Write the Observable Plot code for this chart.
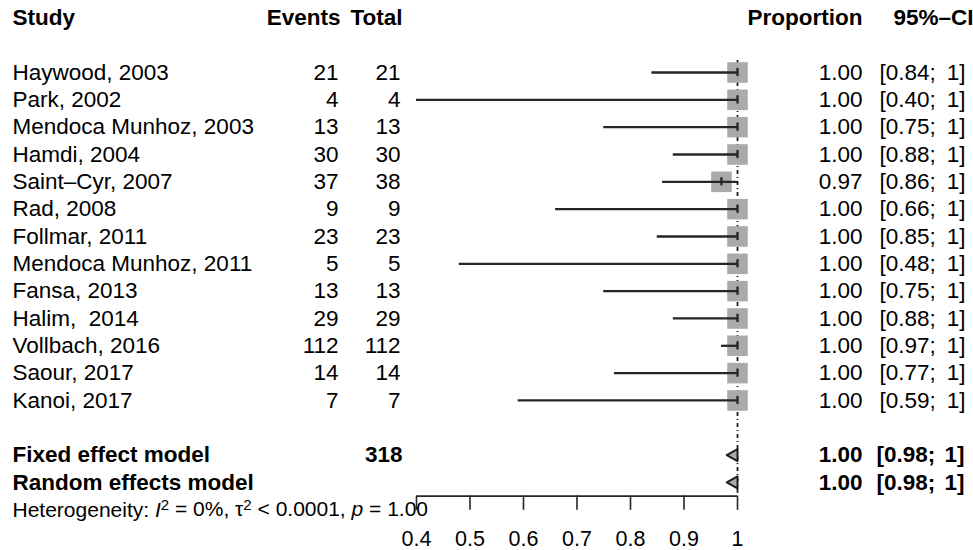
<!DOCTYPE html>
<html>
<head>
<meta charset="utf-8">
<script src="https://cdn.jsdelivr.net/npm/d3@7"></script>
<script src="https://cdn.jsdelivr.net/npm/@observablehq/plot@0.6"></script>
<style>
  html, body { margin: 0; padding: 0; background: #fff; }
  svg text { white-space: pre; }
</style>
</head>
<body>
<div id="chart"></div>
<script>
// ---- data ----
const studies = ["Haywood, 2003", "Park, 2002", "Mendoca Munhoz, 2003", "Hamdi, 2004", "Saint\u2013Cyr, 2007", "Rad, 2008", "Follmar, 2011", "Mendoca Munhoz, 2011", "Fansa, 2013", "Halim,  2014", "Vollbach, 2016", "Saour, 2017", "Kanoi, 2017"];
const events = [21, 4, 13, 30, 37, 9, 23, 5, 13, 29, 112, 14, 7];
const totals = [21, 4, 13, 30, 38, 9, 23, 5, 13, 29, 112, 14, 7];
const proportions = [1, 1, 1, 1, 0.97, 1, 1, 1, 1, 1, 1, 1, 1];
const lowers = [0.84, 0.40, 0.75, 0.88, 0.86, 0.66, 0.85, 0.48, 0.75, 0.88, 0.97, 0.77, 0.59];
const uppers = [1, 1, 1, 1, 1, 1, 1, 1, 1, 1, 1, 1, 1];

const models = ["Fixed effect model", "Random effects model"];
const modelEst = [1, 1];
const modelLower = [0.98, 0.98];
const modelUpper = [1, 1];
const modelTotals = [318, null];

const headers = ["Study", "Events", "Total", "Proportion", "95%\u2013CI"];
const heterogeneity = "Heterogeneity: I2 = 0%, \u03c42 < 0.0001, p = 1.00";
const xTicks = [0.4, 0.5, 0.6, 0.7, 0.8, 0.9, 1];

// ---- layout ----
const font = "Liberation Sans, Arial, Helvetica, sans-serif";
const fs = 22.5;
const col = {study: 12, events: 338, total: 400, prop: 862, ciL: 879, ciR: 965, ciHead: 893};
const fmtP = d => d.toFixed(2);
const fmtU = d => (d === 1 ? "1" : d.toFixed(2)) + "]";
const fmtL = d => "[" + d.toFixed(2) + ";";
const tickFmt = d => (d === 1 ? "1" : d.toFixed(1));

const rows = studies.map((s, i) => ({
  study: s, events: events[i], total: totals[i],
  prop: proportions[i], lo: lowers[i], hi: uppers[i], row: i + 2
}));
const sumRows = models.map((m, i) => ({
  model: m, est: modelEst[i], lo: modelLower[i], hi: modelUpper[i],
  total: modelTotals[i], row: 16 + i
}));
const h = 0.22;
const diamonds = sumRows.flatMap(d => [
  {model: d.model, x: d.lo, y: d.row},
  {model: d.model, x: d.est, y: d.row - h},
  {model: d.model, x: d.hi, y: d.row},
  {model: d.model, x: d.est, y: d.row + h},
  {model: d.model, x: d.lo, y: d.row}
]);
const headRow = [{row: 0}];
const dy = 0;

const left = (data, opts) => Plot.text(data, {frameAnchor: "left", textAnchor: "start", fontSize: fs, fill: "#000", dy, ...opts});
const right = (data, opts) => Plot.text(data, {frameAnchor: "left", textAnchor: "end", fontSize: fs, fill: "#000", dy, ...opts});

const chart = Plot.plot({
  width: 973,
  height: 550,
  margin: 0,
  x: {domain: [0.4, 1], range: [416, 737], axis: null},
  y: {domain: [0, 19], range: [17.34, 536.6], axis: null},
  style: {fontFamily: font, background: "#fff", overflow: "hidden"},
  marks: [
    // reference line at pooled estimate
    Plot.ruleX([modelEst[0]], {x: d => d, y1: 1.56, y2: 17.4, stroke: "#111", strokeWidth: 1.7, strokeDasharray: "4,3,1,3"}),
    // squares
    Plot.dot(rows, {x: "prop", y: "row", symbol: "square", r: 11.6, fill: "#aaaaaa", stroke: "none"}),
    // CI lines
    Plot.ruleY(rows, {y: "row", x1: "lo", x2: "hi", stroke: "#262626", strokeWidth: 2.3}),
    // estimate ticks
    Plot.ruleX(rows, {x: "prop", y1: d => d.row - 0.15, y2: d => d.row + 0.15, stroke: "#262626", strokeWidth: 2.3}),
    // diamonds
    Plot.line(diamonds, {x: "x", y: "y", z: "model", fill: "#aaaaaa", stroke: "#1e1e1e", strokeWidth: 2, curve: "linear"}),
    // axis
    Plot.ruleY([17.5], {y: d => d, x1: xTicks[0], x2: xTicks[xTicks.length - 1], stroke: "#262626", strokeWidth: 1.6}),
    Plot.ruleX(xTicks, {x: d => d, y1: 17.5, y2: 18.02, stroke: "#262626", strokeWidth: 1.6}),
    Plot.text(xTicks, {x: d => d, y: () => 19.08, text: tickFmt, fontSize: 21.5, fill: "#000", textAnchor: "middle"}),
    // headers
    left(headRow, {y: "row", text: () => headers[0], dx: col.study, fontWeight: "bold"}),
    right(headRow, {y: "row", text: () => headers[1], dx: col.events + 2, fontWeight: "bold"}),
    right(headRow, {y: "row", text: () => headers[2], dx: col.total + 2, fontWeight: "bold"}),
    right(headRow, {y: "row", text: () => headers[3], dx: col.prop, fontWeight: "bold"}),
    left(headRow, {y: "row", text: () => headers[4], dx: col.ciHead, fontWeight: "bold"}),
    // study columns
    left(rows, {y: "row", text: "study", dx: col.study}),
    right(rows, {y: "row", text: d => String(d.events), dx: col.events}),
    right(rows, {y: "row", text: d => String(d.total), dx: col.total}),
    right(rows, {y: "row", text: d => fmtP(d.prop), dx: col.prop}),
    left(rows, {y: "row", text: d => fmtL(d.lo), dx: col.ciL}),
    right(rows, {y: "row", text: d => fmtU(d.hi), dx: col.ciR}),
    // summary rows
    left(sumRows, {y: "row", text: "model", dx: col.study, fontWeight: "bold"}),
    right(sumRows.filter(d => d.total != null), {y: "row", text: d => String(d.total), dx: col.total + 2, fontWeight: "bold"}),
    right(sumRows, {y: "row", text: d => fmtP(d.est), dx: col.prop, fontWeight: "bold"}),
    left(sumRows, {y: "row", text: d => fmtL(d.lo), dx: col.ciL - 3, fontWeight: "bold"}),
    right(sumRows, {y: "row", text: d => fmtU(d.hi), dx: col.ciR - 1, fontWeight: "bold"}),
    // heterogeneity
    left([{row: 18}], {y: "row", text: () => heterogeneity, dx: col.study, fontSize: 21})
  ]
});

document.getElementById("chart").appendChild(chart);

// rich formatting of the heterogeneity line (italics and superscripts)
const NS = "http://www.w3.org/2000/svg";
chart.querySelectorAll("text").forEach(t => t.setAttribute("xml:space", "preserve"));
const het = Array.from(chart.querySelectorAll("text")).find(t => t.textContent.startsWith("Heterogeneity"));
if (het) {
  while (het.firstChild) het.removeChild(het.firstChild);
  const parts = [
    ["Heterogeneity: ", {}],
    ["I", {"font-style": "italic"}],
    ["2", {"font-size": "15", "dy": "-0.45em"}],
    [" = 0%, \u03c4", {"dy": "0.32em"}],
    ["2", {"font-size": "15", "dy": "-0.45em"}],
    [" < 0.0001, ", {"dy": "0.32em"}],
    ["p", {"font-style": "italic"}],
    [" = 1.00", {}]
  ];
  for (const [txt, attrs] of parts) {
    const s = document.createElementNS(NS, "tspan");
    for (const k in attrs) s.setAttribute(k, attrs[k]);
    s.textContent = txt;
    het.appendChild(s);
  }
}
</script>
</body>
</html>
